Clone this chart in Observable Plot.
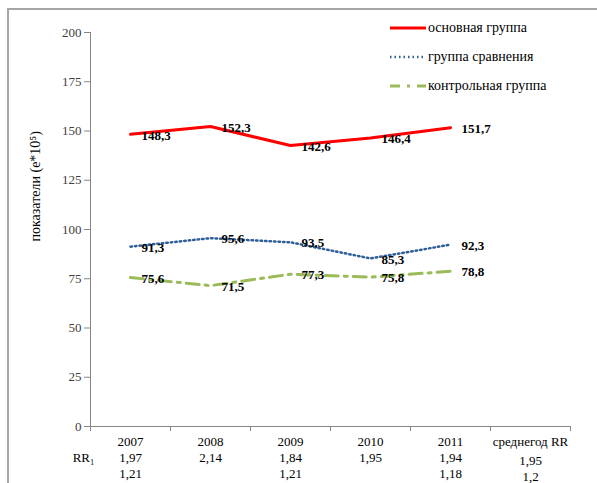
<!DOCTYPE html>
<html lang="ru">
<head>
<meta charset="utf-8">
<script src="https://cdn.jsdelivr.net/npm/d3@7"></script>
<script src="https://cdn.jsdelivr.net/npm/@observablehq/plot@0.6"></script>
<style>
  body { margin: 0; background: #fff; }
  #chart, #chart * { font-family: "Liberation Serif", serif !important; }
  #chart { position: relative; width: 597px; height: 483px; }
  #frame { position: absolute; left: 7px; top: 8px; width: 592px; height: 477px; border-top: 2px solid #a6a6a6; border-left: 2px solid #a6a6a6; pointer-events: none; box-sizing: border-box; }
  #plot { position: absolute; left: 0; top: 0; }
  #legend { position: absolute; left: 390px; top: 13px; font-size: 14px; color: #000; }
  .item { display: flex; align-items: center; height: 29px; }
  .item svg { width: 38px; height: 10px; }
</style>
</head>
<body style="font-family: 'Liberation Serif', serif">
<div id="chart">
  <div id="plot"></div>
  <div id="legend"></div>
  <div id="frame"></div>
</div>
<script>
// Years on the x axis, plus the summary column on the right
const years = [2007, 2008, 2009, 2010, 2011];
const summaryLabel = "среднегод RR";
const summaryPos = 2012;

// Rates per 100 000 for each group
const mainGroup = [148.3, 152.3, 142.6, 146.4, 151.7];
const comparisonGroup = [91.3, 95.6, 93.5, 85.3, 92.3];
const controlGroup = [75.6, 71.5, 77.3, 75.8, 78.8];

// Relative risk rows under the axis
const rr1 = [1.97, 2.14, 1.84, 1.95, 1.94];
const rr2 = [1.21, null, 1.21, null, 1.18];
const avgRR1 = 1.95;
const avgRR2 = 1.2;

const seriesNames = ["основная группа", "группа сравнения", "контрольная группа"];
const yTicks = [0, 25, 50, 75, 100, 125, 150, 175, 200];

const fmt = v => String(v).replace(".", ",");
const toRows = vals => years.map((year, i) => ({year, value: vals[i]})).filter(d => d.value != null);

const styles = [
  {stroke: "#ff0000", strokeWidth: 3, strokeDasharray: null},
  {stroke: "#2f5f98", strokeWidth: 2.5, strokeDasharray: "1.5 3"},
  {stroke: "#9bbb59", strokeWidth: 3, strokeDasharray: "13 6 3 6"}
];
const seriesData = [mainGroup, comparisonGroup, controlGroup].map(toRows);

const bounds = d3.range(2006.5, 2013, 1);
const axisGray = "#868686";
const serif = "Liberation Serif";
const textOpts = {frameAnchor: "bottom", fontSize: 13, fill: "#000", fontFamily: serif};

const chart = Plot.plot({
  width: 597,
  height: 483,
  marginLeft: 90,
  marginRight: 27,
  marginTop: 32,
  marginBottom: 57,
  style: {background: "transparent", overflow: "visible", fontFamily: serif},
  x: {domain: [bounds[0], bounds[bounds.length - 1]], axis: null},
  y: {domain: [0, 200], axis: null},
  marks: [
    Plot.ruleY([0], {stroke: axisGray}),
    Plot.ruleX([bounds[0]], {stroke: axisGray}),
    Plot.axisY({ticks: yTicks, tickSize: 6, tickPadding: 3, stroke: axisGray, fill: "#404040", fontSize: 13, fontFamily: serif, label: null}),
    Plot.axisX({ticks: bounds, tickSize: 5, tickFormat: () => "", stroke: axisGray, label: null}),
    ...seriesData.map((rows, i) => Plot.line(rows, {x: "year", y: "value", ...styles[i]})),
    ...seriesData.map(rows => Plot.text(rows, {x: "year", y: "value", text: d => fmt(d.value), textAnchor: "start", dx: 11, dy: 1, fontWeight: "bold", fontSize: 13, fill: "#000", fontFamily: serif})),
    // y-axis title
    Plot.text(["показатели (e*10⁵)"], {frameAnchor: "left", rotate: -90, dx: -55, dy: 12, fontSize: 14, fill: "#000", fontFamily: serif}),
    // table under the axis: year row, RR rows, summary column
    Plot.text(years, {x: d => d, text: d => String(d), dy: 19, ...textOpts}),
    Plot.text([summaryPos], {x: d => d, text: () => summaryLabel, dy: 19, ...textOpts}),
    Plot.text(toRows(rr1), {x: "year", text: d => fmt(d.value), dy: 35, ...textOpts}),
    Plot.text(toRows(rr2), {x: "year", text: d => fmt(d.value), dy: 51, ...textOpts}),
    Plot.text([avgRR1], {x: () => summaryPos, text: d => fmt(d), dy: 38, ...textOpts}),
    Plot.text([avgRR2], {x: () => summaryPos, text: d => fmt(d), dy: 54, ...textOpts}),
    Plot.text(["RR₁"], {x: () => bounds[0], text: d => d, dy: 35, dx: 4, textAnchor: "end", ...textOpts})
  ]
});
document.getElementById("plot").append(chart);

// legend
const legend = document.getElementById("legend");
seriesNames.forEach((name, i) => {
  const s = styles[i];
  const dash = i === 2 ? "10 7 3 7" : s.strokeDasharray;
  const row = document.createElement("div");
  row.className = "item";
  row.innerHTML = `<svg viewBox="0 0 38 10"><line x1="0" x2="36" y1="5" y2="5" stroke="${s.stroke}" stroke-width="${s.strokeWidth}" ${dash ? `stroke-dasharray="${dash}"` : ""}/></svg><span>${name}</span>`;
  legend.append(row);
});
</script>
</body>
</html>
